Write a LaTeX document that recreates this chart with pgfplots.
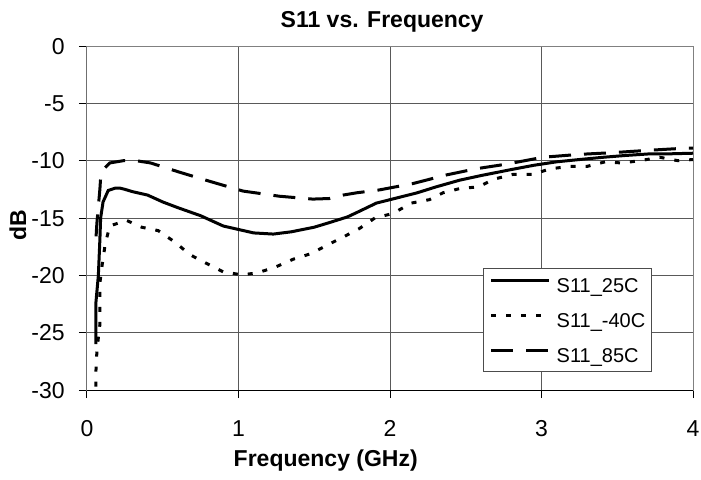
\documentclass[border=0pt]{standalone}
\usepackage{fontspec}
\setmainfont{Liberation Sans}
\usepackage{pgfplots}
\pgfplotsset{compat=1.18}

\begin{document}
\begin{tikzpicture}
% fixed page box: plot area is 303pt x 172pt, placed at (0,0)
\useasboundingbox (-43.5pt,-44.5pt) rectangle (307pt,195pt);
\begin{axis}[
    scale only axis,
    width=303pt, height=172pt,
    xmin=0, xmax=4,
    ymin=-30, ymax=0,
    xtick={0,1,2,3,4},
    ytick={-30,-25,-20,-15,-10,-5,0},
    tick pos=left,
    tick align=outside,
    major tick length=4pt,
    tick style={black, line width=0.5pt},
    /pgf/number format/assume math mode=true,
    ticklabel style={font=\fontsize{11.5}{13}\selectfont, inner sep=0pt,
        text height=8.2pt, text depth=0pt},
    xticklabel style={anchor=center, yshift=-15pt},
    yticklabel style={anchor=east, xshift=-7pt},
    grid=major,
    major grid style={black!65, line width=0.5pt},
    axis line style={black!50, line width=0.5pt},
    every axis title shift=0pt,
    title={S11 vs. Frequency},
    title style={font=\fontsize{11.5}{13}\selectfont\bfseries,
        at={(axis description cs:0.487,1.070)}, anchor=center, yshift=0pt},
    xlabel={Frequency (GHz)},
    xlabel style={font=\fontsize{11.5}{13}\selectfont\bfseries,
        at={(axis description cs:0.394,-0.205)}, anchor=center},
    ylabel={dB},
    ylabel style={font=\fontsize{11.5}{13}\selectfont\bfseries,
        at={(axis description cs:-0.114,0.48)}, anchor=center},
    legend style={
        at={(axis description cs:0.932,0.052)}, anchor=south east,
        draw=black!70, fill=white, line width=0.5pt,
        font=\fontsize{10}{12}\selectfont,
        inner xsep=3pt, inner ysep=4.5pt,
        nodes={inner sep=0pt, text height=7.5pt, text depth=0pt},
        /tikz/row sep=10pt, /tikz/column sep=3pt,
    },
    legend cell align=left,
    legend image code/.code={\draw[#1] (0pt,2.5pt) -- (29pt,2.5pt);},
]

% S11_25C
\addplot[black, line width=1.5pt] coordinates {
(0.058,-26.0) (0.058,-24.0) (0.058,-22.5) (0.075,-20.0) (0.085,-16.9)
(0.09,-15.0) (0.106,-13.6) (0.14,-12.6) (0.185,-12.4) (0.22,-12.4)
(0.25,-12.5) (0.3,-12.7) (0.4,-13.0) (0.5,-13.6) (0.6,-14.1)
(0.75,-14.8) (0.9,-15.7) (1.0,-16.0) (1.1,-16.3) (1.23,-16.4)
(1.35,-16.2) (1.5,-15.8) (1.6,-15.4) (1.72,-14.9) (1.8,-14.4)
(1.91,-13.7) (2.0,-13.4) (2.18,-12.8) (2.3,-12.3) (2.46,-11.7)
(2.6,-11.3) (2.79,-10.8) (2.95,-10.4) (3.1,-10.1) (3.25,-9.9)
(3.41,-9.7) (3.55,-9.55) (3.72,-9.4) (3.85,-9.4) (4.0,-9.35)
};
\addlegendentry{S11\_25C}

% S11_-40C
\addplot[black, line width=1.5pt, dash pattern=on 2.5pt off 5pt] coordinates {
(0.058,-29.7) (0.06,-27.6) (0.07,-26.0) (0.085,-24.3) (0.085,-22.4)
(0.085,-20.7) (0.1,-19.1) (0.12,-17.3) (0.15,-15.7) (0.26,-15.2)
(0.36,-15.8) (0.47,-16.1) (0.58,-17.1) (0.68,-18.2) (0.78,-18.9)
(0.9,-19.7) (1.02,-19.95) (1.12,-19.8) (1.24,-19.3) (1.36,-18.6)
(1.48,-18.1) (1.58,-17.4) (1.7,-16.6) (1.8,-15.9) (1.9,-15.0)
(2.02,-14.6) (2.14,-13.7) (2.26,-13.4) (2.35,-12.8) (2.47,-12.4)
(2.58,-12.3) (2.69,-11.6) (2.81,-11.2) (2.94,-11.2) (3.06,-10.7)
(3.19,-10.5) (3.3,-10.5) (3.42,-10.1) (3.53,-10.2) (3.65,-10.0)
(3.78,-9.7) (3.9,-10.0) (4.0,-9.9)
};
\addlegendentry{S11\_-40C}

% S11_85C
\addplot[black, line width=1.5pt, dash pattern=on 11pt off 6.5pt] coordinates {
(0.06,-16.6) (0.065,-15.5) (0.075,-14.0) (0.085,-12.5) (0.09,-11.5)
(0.12,-10.6) (0.15,-10.2) (0.24,-10.0) (0.3,-9.95) (0.42,-10.2)
(0.61,-11.0) (0.81,-11.8) (1.03,-12.65) (1.27,-13.1) (1.49,-13.35)
(1.6,-13.3) (1.69,-13.0) (1.78,-12.8) (1.93,-12.55) (2.15,-12.0)
(2.37,-11.25) (2.57,-10.7) (2.77,-10.3) (3.01,-9.7) (3.25,-9.45)
(3.47,-9.3) (3.7,-9.1) (3.96,-8.9) (4.0,-8.9)
};
\addlegendentry{S11\_85C}

% black left and bottom axis lines
\draw[black, line width=0.5pt] (rel axis cs:0,1) -- (rel axis cs:0,0) -- (rel axis cs:1,0);
\end{axis}
\end{tikzpicture}
\end{document}
